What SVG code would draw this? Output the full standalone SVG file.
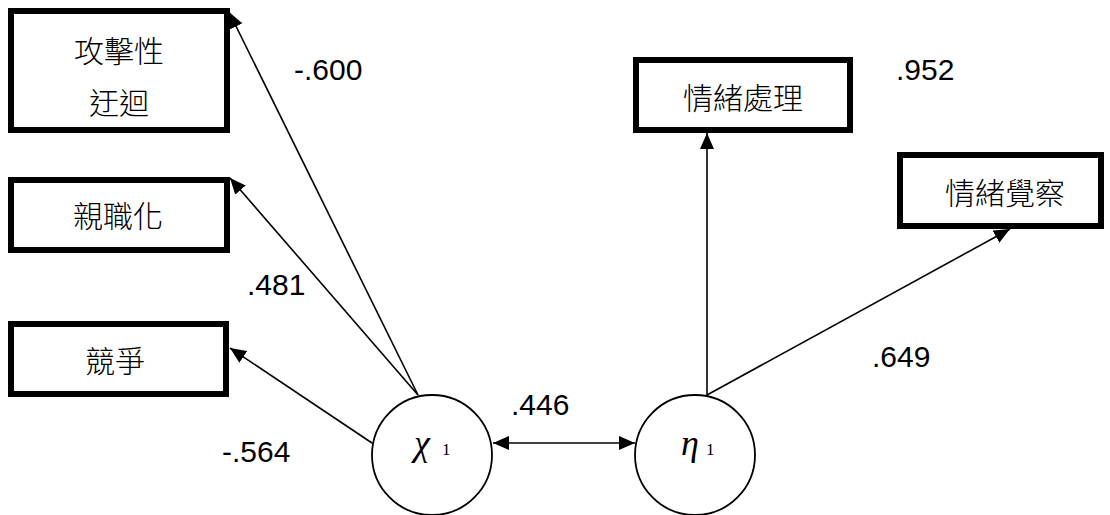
<svg xmlns="http://www.w3.org/2000/svg" width="1110" height="515" viewBox="0 0 1110 515">
<style>
.box{fill:#fff;stroke:#000;stroke-width:6}
.cjk{font-family:"Noto Sans CJK TC","Noto Sans CJK SC",sans-serif;font-size:30px;font-weight:300;fill:#000;text-anchor:middle;dominant-baseline:central}
.num{font-family:"Liberation Sans",Arial,sans-serif;font-size:30px;fill:#000}
.circ{fill:#fff;stroke:#000;stroke-width:1.8}
.greek{font-family:"Liberation Serif","DejaVu Serif",serif;font-style:italic;font-size:36px;fill:#000}
.sub{font-family:"Liberation Serif","DejaVu Serif",serif;font-size:17px;fill:#000}
.edge{stroke:#000;stroke-width:1.6;fill:none}
</style>
<defs>
<marker id="ah" markerUnits="userSpaceOnUse" markerWidth="18" markerHeight="14" refX="16" refY="7" orient="auto-start-reverse" viewBox="0 0 18 14">
<path d="M0,0 L16,7 L0,14 z" fill="#000"/>
</marker>
</defs>
<rect width="1110" height="515" fill="#fff"/>
<g id="connectors">
<line class="edge" x1="418" y1="395" x2="229" y2="12" marker-end="url(#ah)"/>
<line class="edge" x1="418" y1="395" x2="230" y2="178" marker-end="url(#ah)"/>
<line class="edge" x1="372" y1="443" x2="230" y2="348" marker-end="url(#ah)"/>
<line class="edge" x1="493" y1="443" x2="635" y2="443" marker-start="url(#ah)" marker-end="url(#ah)"/>
<line class="edge" x1="707" y1="395" x2="707" y2="133" marker-end="url(#ah)"/>
<line class="edge" x1="707" y1="395" x2="1010" y2="229" marker-end="url(#ah)"/>
</g>
<g id="labels">
<text class="num" x="294" y="80">-.600</text>
<text class="num" x="247" y="295">.481</text>
<text class="num" x="222" y="462">-.564</text>
<text class="num" x="511" y="415">.446</text>
<text class="num" x="896" y="80">.952</text>
<text class="num" x="872" y="367">.649</text>
</g>
<g id="node-aggressive">
<rect class="box" x="11" y="11" width="216" height="119"/>
<text class="cjk" x="119" y="49">攻擊性</text>
<text class="cjk" x="119" y="101">迂迴</text>
</g>
<g id="node-parentification">
<rect class="box" x="11" y="180" width="216" height="70"/>
<text class="cjk" x="118" y="214">親職化</text>
</g>
<g id="node-competition">
<rect class="box" x="11" y="324" width="215" height="70"/>
<text class="cjk" x="115" y="359">競爭</text>
</g>
<g id="node-emotion-processing">
<rect class="box" x="636" y="60" width="214" height="70"/>
<text class="cjk" x="743" y="96">情緒處理</text>
</g>
<g id="node-emotion-awareness">
<rect class="box" x="900" y="155" width="201" height="71"/>
<text class="cjk" x="1005" y="191">情緒覺察</text>
</g>
<g id="node-chi1">
<circle class="circ" cx="432" cy="455" r="60"/>
<text class="greek" x="414" y="455">χ</text>
<text class="sub" x="442" y="455">1</text>
</g>
<g id="node-eta1">
<circle class="circ" cx="695" cy="455" r="60"/>
<text class="greek" x="681" y="455">η</text>
<text class="sub" x="706" y="455">1</text>
</g>
</svg>
